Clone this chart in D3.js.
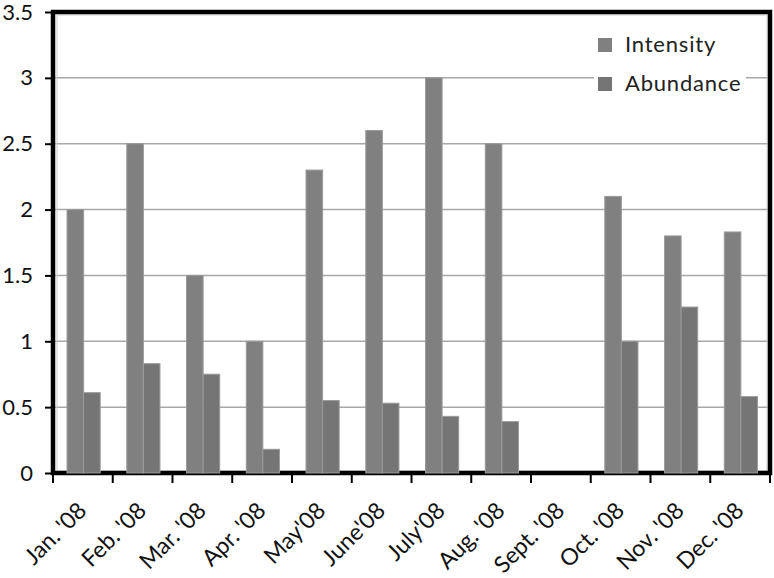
<!DOCTYPE html>
<html>
<head>
<meta charset="utf-8">
<script src="https://cdn.jsdelivr.net/npm/d3@7"></script>
<style>
  body { margin: 0; background: #fff; }
  svg { display: block; font-family: Lato, "Open Sans", sans-serif; }
</style>
</head>
<body>
<svg id="chart" width="774" height="578"></svg>
<script>
// values
var months = ["Jan. '08", "Feb. '08", "Mar. '08", "Apr. '08", "May'08", "June'08",
              "July'08", "Aug. '08", "Sept. '08", "Oct. '08", "Nov. '08", "Dec. '08"];
var seriesNames = ["Intensity", "Abundance"];
var intensity = [2.0, 2.5, 1.5, 1.0, 2.3, 2.6, 3.0, 2.5, 0, 2.1, 1.8, 1.83];
var abundance = [0.61, 0.83, 0.75, 0.18, 0.55, 0.53, 0.43, 0.39, 0, 1.0, 1.26, 0.58];
var yTicks = [0, 0.5, 1, 1.5, 2, 2.5, 3, 3.5];
var colors = ["#808080", "#757575"];

var svg = d3.select("#chart");

// plot box (don't call it "top", window.top is read-only)
var plotLeft = 53, plotRight = 770, plotTop = 12, plotBottom = 473;

var x = d3.scaleBand().domain(months).range([plotLeft, plotRight]);
var xs = d3.scaleBand().domain(seriesNames)
    .range([x.bandwidth() * 0.235, x.bandwidth() * 0.79]);
var y = d3.scaleLinear().domain([0, 3.5]).range([plotBottom, plotTop]);

// grid lines
svg.append("g")
    .selectAll("line")
    .data(yTicks.slice(1, -1))
    .enter().append("line")
        .attr("x1", plotLeft).attr("x2", plotRight)
        .attr("y1", function (d) { return y(d); })
        .attr("y2", function (d) { return y(d); })
        .attr("stroke", "#a8a8a8")
        .attr("stroke-width", 1.5);

// legend background hides the grid line behind it
svg.append("rect")
    .attr("x", 594).attr("y", 26)
    .attr("width", 152).attr("height", 76)
    .attr("fill", "#fff");

// faint inner frame
svg.append("rect")
    .attr("x", plotLeft + 4).attr("y", plotTop + 3)
    .attr("width", plotRight - plotLeft - 7).attr("height", plotBottom - plotTop - 5)
    .attr("fill", "none")
    .attr("stroke", "#d0d0d0")
    .attr("stroke-width", 1);

// left axis
var yAxis = svg.append("g")
    .attr("transform", "translate(" + plotLeft + ",0)")
    .call(d3.axisLeft(y)
        .tickValues(yTicks)
        .tickSize(8)
        .tickPadding(12)
        .tickFormat(function (d) { return String(d); }));

yAxis.select(".domain").remove();
yAxis.selectAll("line").attr("stroke", "#000").attr("stroke-width", 2);
yAxis.selectAll("text")
    .attr("font-size", 22)
    .attr("fill", "#111")
    .style("font-family", "Lato, sans-serif");

// frame (thick black)
svg.append("rect")
    .attr("x", plotLeft).attr("y", plotTop)
    .attr("width", plotRight - plotLeft).attr("height", plotBottom - plotTop)
    .attr("fill", "none")
    .attr("stroke", "#000")
    .attr("stroke-width", 4.5);

// bars
var groups = svg.append("g")
    .selectAll("g")
    .data(months)
    .enter().append("g")
        .attr("transform", function (d) { return "translate(" + x(d) + ",0)"; });

groups.selectAll("rect")
    .data(function (d, i) {
        return [
            { key: seriesNames[0], value: intensity[i], c: colors[0] },
            { key: seriesNames[1], value: abundance[i], c: colors[1] }
        ];
    })
    .enter().append("rect")
        .filter(function (d) { return d.value > 0; })
        .attr("x", function (d) { return xs(d.key); })
        .attr("width", xs.bandwidth())
        .attr("y", function (d) { return y(d.value); })
        .attr("height", function (d) { return y(0) - y(d.value); })
        .attr("fill", function (d) { return d.c; })
        .attr("stroke", "#9a9a9a")
        .attr("stroke-width", 1);

// bottom ticks at category boundaries
var bounds = months.map(function (m) { return x(m); }).concat([plotRight]);
svg.append("g")
    .selectAll("line")
    .data(bounds)
    .enter().append("line")
        .attr("x1", function (d) { return d; })
        .attr("x2", function (d) { return d; })
        .attr("y1", plotBottom)
        .attr("y2", plotBottom + 10)
        .attr("stroke", "#000")
        .attr("stroke-width", 2);

// month labels
svg.append("g")
    .selectAll("text")
    .data(months)
    .enter().append("text")
        .attr("transform", function (d) {
            return "translate(" + (x(d) + x.bandwidth() / 2 + 5) + "," + 512 + ") rotate(-45)";
        })
        .attr("text-anchor", "end")
        .attr("font-size", 23)
        .attr("fill", "#111")
        .text(function (d) { return d; });

// legend
var legend = svg.append("g")
    .attr("transform", "translate(598,38)");

var items = legend.selectAll("g")
    .data(seriesNames)
    .enter().append("g")
        .attr("transform", function (d, i) { return "translate(0," + (i * 39) + ")"; });

items.append("rect")
    .attr("width", 14).attr("height", 14)
    .attr("fill", function (d, i) { return colors[i]; });

items.append("text")
    .attr("x", 27).attr("y", 14)
    .attr("font-size", 22)
    .attr("letter-spacing", 0.8)
    .attr("fill", "#222")
    .text(function (d) { return d; });
</script>
</body>
</html>
